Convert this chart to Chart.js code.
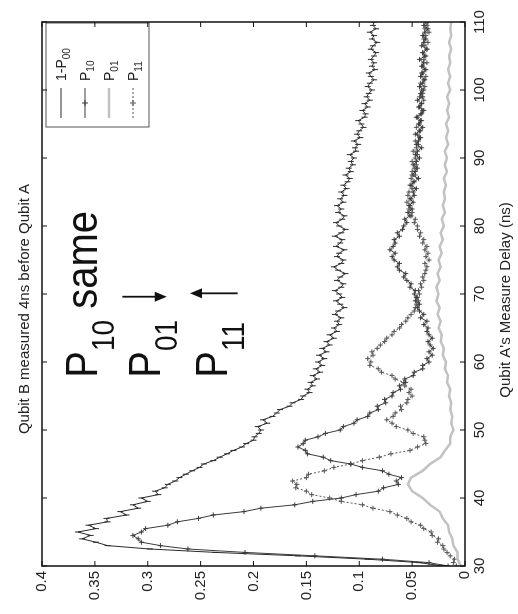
<!DOCTYPE html>
<html>
<head>
<meta charset="utf-8">
<script src="https://cdn.jsdelivr.net/npm/chart.js@4.4.1/dist/chart.umd.min.js"></script>
<style>
    html, body { margin: 0; padding: 0; background: #fff; overflow: hidden; }
    /* the figure is printed turned on its side, so draw it upright and rotate it */
    #wrap {
        position: absolute; left: 0; top: 0;
        width: 614px; height: 518px;
        transform-origin: 0 0;
        transform: translateY(614px) rotate(-90deg);
    }
</style>
</head>
<body>
<div id="wrap"><canvas id="chart" width="614" height="518"></canvas></div>
<script>
// ============ DATA ============
const chartTitle = 'Qubit B measured 4ns before Qubit A';
const xTitle = "Qubit A's Measure Delay (ns)";

const xTicks = [30, 40, 50, 60, 70, 80, 90, 100, 110];
const yTicks = [0, 0.05, 0.1, 0.15, 0.2, 0.25, 0.3, 0.35, 0.4];

const seriesLabels = ['1-P00', 'P10', 'P01', 'P11'];
const legendParts = [['1-P', '00'], ['P', '10'], ['P', '01'], ['P', '11']];

// measure delay (ns) for 1-P00, P10, P11
const delays = [
    30, 30.5, 31, 31.5, 32, 32.5, 33, 33.5, 34, 34.5,
    35, 35.5, 36, 36.5, 37, 37.5, 38, 38.5, 39, 39.5,
    40, 40.5, 41, 41.5, 42, 42.5, 43, 43.5, 44, 44.5,
    45, 45.5, 46, 46.5, 47, 47.5, 48, 48.5, 49, 49.5,
    50, 50.5, 51, 51.5, 52, 52.5, 53, 53.5, 54, 54.5,
    55, 55.5, 56, 56.5, 57, 57.5, 58, 58.5, 59, 59.5,
    60, 60.5, 61, 61.5, 62, 62.5, 63, 63.5, 64, 64.5,
    65, 65.5, 66, 66.5, 67, 67.5, 68, 68.5, 69, 69.5,
    70, 70.5, 71, 71.5, 72, 72.5, 73, 73.5, 74, 74.5,
    75, 75.5, 76, 76.5, 77, 77.5, 78, 78.5, 79, 79.5,
    80, 80.5, 81, 81.5, 82, 82.5, 83, 83.5, 84, 84.5,
    85, 85.5, 86, 86.5, 87, 87.5, 88, 88.5, 89, 89.5,
    90, 90.5, 91, 91.5, 92, 92.5, 93, 93.5, 94, 94.5,
    95, 95.5, 96, 96.5, 97, 97.5, 98, 98.5, 99, 99.5,
    100, 100.5, 101, 101.5, 102, 102.5, 103, 103.5, 104, 104.5,
    105, 105.5, 106, 106.5, 107, 107.5, 108, 108.5, 109, 109.5,
    110
];

const onePminusP00 = [
    0.021, 0.043, 0.092, 0.158, 0.236, 0.298, 0.338, 0.349, 0.362, 0.354,
    0.366, 0.349, 0.356, 0.338, 0.339, 0.320, 0.326, 0.309, 0.314, 0.300,
    0.306, 0.290, 0.293, 0.284, 0.281, 0.274, 0.270, 0.264, 0.258, 0.251,
    0.247, 0.238, 0.232, 0.225, 0.219, 0.211, 0.207, 0.200, 0.199, 0.195,
    0.193, 0.196, 0.187, 0.191, 0.182, 0.178, 0.175, 0.166, 0.163, 0.155,
    0.153, 0.147, 0.149, 0.144, 0.146, 0.140, 0.144, 0.137, 0.141, 0.135,
    0.139, 0.133, 0.138, 0.131, 0.135, 0.128, 0.131, 0.124, 0.128, 0.121,
    0.124, 0.119, 0.121, 0.117, 0.123, 0.120, 0.114, 0.118, 0.122, 0.116,
    0.119, 0.123, 0.117, 0.115, 0.121, 0.118, 0.113, 0.120, 0.124, 0.117,
    0.115, 0.121, 0.119, 0.114, 0.122, 0.118, 0.116, 0.123, 0.117, 0.113,
    0.119, 0.122, 0.116, 0.114, 0.120, 0.117, 0.121, 0.115, 0.118, 0.114,
    0.117, 0.112, 0.115, 0.111, 0.109, 0.113, 0.108, 0.110, 0.106, 0.108,
    0.105, 0.109, 0.103, 0.104, 0.101, 0.105, 0.099, 0.102, 0.100, 0.096,
    0.098, 0.101, 0.095, 0.094, 0.097, 0.092, 0.095, 0.090, 0.093, 0.091,
    0.088, 0.092, 0.090, 0.086, 0.089, 0.091, 0.085, 0.088, 0.086, 0.089,
    0.086, 0.084, 0.089, 0.087, 0.083, 0.088, 0.086, 0.090, 0.084, 0.087,
    0.086
];

const p10 = [
    0.016, 0.034, 0.078, 0.142, 0.208, 0.262, 0.288, 0.306, 0.309, 0.314,
    0.306, 0.302, 0.281, 0.272, 0.252, 0.238, 0.209, 0.193, 0.161, 0.144,
    0.117, 0.103, 0.082, 0.077, 0.063, 0.065, 0.060, 0.072, 0.078, 0.097,
    0.108, 0.127, 0.134, 0.149, 0.151, 0.158, 0.153, 0.151, 0.139, 0.132,
    0.118, 0.115, 0.105, 0.102, 0.092, 0.090, 0.082, 0.083, 0.075, 0.076,
    0.069, 0.068, 0.061, 0.062, 0.056, 0.057, 0.049, 0.048, 0.040, 0.040,
    0.034, 0.036, 0.031, 0.034, 0.030, 0.033, 0.035, 0.031, 0.034, 0.036,
    0.035, 0.039, 0.036, 0.042, 0.039, 0.043, 0.045, 0.043, 0.047, 0.046,
    0.048, 0.047, 0.052, 0.051, 0.055, 0.058, 0.056, 0.062, 0.064, 0.062,
    0.067, 0.069, 0.066, 0.071, 0.068, 0.066, 0.067, 0.062, 0.064, 0.059,
    0.058, 0.055, 0.057, 0.052, 0.054, 0.050, 0.053, 0.049, 0.052, 0.048,
    0.049, 0.046, 0.051, 0.048, 0.044, 0.050, 0.047, 0.045, 0.049, 0.046,
    0.043, 0.047, 0.045, 0.041, 0.046, 0.044, 0.042, 0.047, 0.043, 0.040,
    0.044, 0.042, 0.046, 0.041, 0.039, 0.043, 0.041, 0.045, 0.040, 0.042,
    0.039, 0.043, 0.040, 0.038, 0.042, 0.040, 0.037, 0.041, 0.039, 0.043,
    0.038, 0.040, 0.036, 0.041, 0.039, 0.037, 0.040, 0.038, 0.035, 0.039,
    0.037
];

const p11 = [
    0.008, 0.011, 0.010, 0.014, 0.017, 0.020, 0.021, 0.026, 0.025, 0.031,
    0.032, 0.039, 0.042, 0.051, 0.055, 0.064, 0.071, 0.087, 0.097, 0.117,
    0.128, 0.145, 0.150, 0.160, 0.159, 0.163, 0.150, 0.148, 0.133, 0.124,
    0.108, 0.097, 0.081, 0.070, 0.052, 0.045, 0.037, 0.038, 0.039, 0.049,
    0.054, 0.065, 0.069, 0.074, 0.068, 0.066, 0.060, 0.061, 0.055, 0.054,
    0.050, 0.053, 0.051, 0.057, 0.058, 0.066, 0.069, 0.079, 0.082, 0.090,
    0.089, 0.092, 0.087, 0.088, 0.083, 0.080, 0.076, 0.074, 0.069, 0.067,
    0.062, 0.060, 0.056, 0.054, 0.051, 0.048, 0.047, 0.046, 0.044, 0.045,
    0.043, 0.044, 0.041, 0.042, 0.039, 0.040, 0.038, 0.037, 0.036, 0.038,
    0.034, 0.037, 0.035, 0.038, 0.036, 0.040, 0.039, 0.043, 0.042, 0.045,
    0.045, 0.048, 0.047, 0.051, 0.050, 0.053, 0.052, 0.055, 0.051, 0.054,
    0.053, 0.050, 0.052, 0.049, 0.051, 0.047, 0.050, 0.048, 0.046, 0.050,
    0.047, 0.045, 0.049, 0.046, 0.044, 0.047, 0.043, 0.045, 0.042, 0.046,
    0.043, 0.041, 0.045, 0.042, 0.040, 0.044, 0.041, 0.039, 0.043, 0.040,
    0.041, 0.038, 0.042, 0.039, 0.037, 0.041, 0.038, 0.040, 0.036, 0.039,
    0.037, 0.040, 0.036, 0.038, 0.035, 0.039, 0.037, 0.034, 0.038, 0.036,
    0.035
];

// P01 is a smoother trace, read at 1 ns
const delaysP01 = [
    30, 31, 32, 33, 34, 35, 36, 37, 38, 39,
    40, 41, 42, 43, 44, 45, 46, 47, 48, 49,
    50, 51, 52, 53, 54, 55, 56, 57, 58, 59,
    60, 61, 62, 63, 64, 65, 66, 67, 68, 69,
    70, 71, 72, 73, 74, 75, 76, 77, 78, 79,
    80, 81, 82, 83, 84, 85, 86, 87, 88, 89,
    90, 91, 92, 93, 94, 95, 96, 97, 98, 99,
    100, 101, 102, 103, 104, 105, 106, 107, 108, 109, 110
];

const p01 = [
    0.004, 0.007, 0.007, 0.011, 0.012, 0.015, 0.016, 0.021, 0.024, 0.033,
    0.040, 0.050, 0.054, 0.051, 0.040, 0.033, 0.023, 0.019, 0.014, 0.014,
    0.011, 0.013, 0.012, 0.014, 0.013, 0.015, 0.014, 0.017, 0.016, 0.019,
    0.018, 0.021, 0.020, 0.023, 0.022, 0.025, 0.023, 0.026, 0.024, 0.027,
    0.025, 0.027, 0.024, 0.026, 0.023, 0.025, 0.022, 0.024, 0.021, 0.023,
    0.020, 0.022, 0.019, 0.021, 0.019, 0.020, 0.018, 0.020, 0.017, 0.019,
    0.017, 0.019, 0.016, 0.018, 0.016, 0.018, 0.015, 0.017, 0.015, 0.017,
    0.014, 0.016, 0.014, 0.016, 0.014, 0.015, 0.013, 0.015, 0.013, 0.014, 0.013
];

// big hand-written notes on the plot (data coordinates)
const notes = [
    { x: 57.7, y: 0.348, base: 'P', sub: '10', rest: ' same' },
    { x: 57.7, y: 0.288, base: 'P', sub: '01', rest: '' },
    { x: 57.7, y: 0.225, base: 'P', sub: '11', rest: '' }
];
const arrows = [
    { x: 69.6, from: 0.324, to: 0.282 },
    { x: 70.1, from: 0.215, to: 0.260 }
];

// ============ HELPERS ============
const FONT = '"Liberation Sans", Arial, Helvetica, sans-serif';

function toPoints(xs, ys) {
    return xs.map((x, i) => ({ x: x, y: ys[i] }));
}

function line(ctx, x1, y1, x2, y2) {
    ctx.beginPath();
    ctx.moveTo(x1, y1);
    ctx.lineTo(x2, y2);
    ctx.stroke();
}

function drawSubText(ctx, px, py, base, sub, rest, size, subSize, subDrop, stretch) {
    ctx.save();
    ctx.translate(px, py);
    ctx.scale(1, stretch);
    ctx.textAlign = 'left';
    ctx.textBaseline = 'alphabetic';
    ctx.font = `${size}px ${FONT}`;
    ctx.fillText(base, 0, 0);
    let w = ctx.measureText(base).width;
    ctx.font = `${subSize}px ${FONT}`;
    ctx.fillText(sub, w, subDrop);
    w += ctx.measureText(sub).width;
    if (rest) {
        ctx.font = `${size}px ${FONT}`;
        ctx.fillText(rest, w, 0);
    }
    ctx.restore();
}

function drawArrow(ctx, x, y1, y2) {
    const dir = y2 > y1 ? 1 : -1;
    ctx.lineWidth = 1.8;
    line(ctx, x, y1, x, y2 - dir * 10);
    ctx.beginPath();
    ctx.moveTo(x, y2);
    ctx.lineTo(x - 5, y2 - dir * 12);
    ctx.lineTo(x + 5, y2 - dir * 12);
    ctx.closePath();
    ctx.fill();
}

function drawLegend(chart) {
    const { ctx, chartArea: a } = chart;
    const bx = a.right - 105, by = a.top + 4, bw = 104, bh = 103;
    ctx.fillStyle = '#fff';
    ctx.fillRect(bx, by, bw, bh);
    ctx.strokeStyle = '#555';
    ctx.lineWidth = 1;
    ctx.strokeRect(bx, by, bw, bh);

    chart.data.datasets.forEach((ds, i) => {
        const cy = by + 15 + i * 24;
        ctx.strokeStyle = ds.borderColor;
        ctx.lineWidth = ds.borderWidth;
        ctx.setLineDash(ds.borderDash || []);
        line(ctx, bx + 9, cy, bx + 39, cy);
        ctx.setLineDash([]);
        if (ds.pointStyle === 'cross') {
            ctx.lineWidth = 1;
            line(ctx, bx + 21, cy, bx + 27, cy);
            line(ctx, bx + 24, cy - 3, bx + 24, cy + 3);
        }
        ctx.fillStyle = '#222';
        drawSubText(ctx, bx + 46, cy + 5, legendParts[i][0], legendParts[i][1], '', 14, 10, 4, 1);
    });
}

// MATLAB-like box, inward ticks, titles and notes
const framePlugin = {
    id: 'matlabFrame',
    afterDraw(chart) {
        const { ctx, chartArea: a, scales: { x, y } } = chart;
        ctx.save();

        drawLegend(chart);

        ctx.strokeStyle = '#111';
        ctx.lineWidth = 1.5;
        ctx.strokeRect(a.left, a.top, a.right - a.left, a.bottom - a.top);

        ctx.lineWidth = 1;
        xTicks.forEach(v => {
            const px = x.getPixelForValue(v);
            line(ctx, px, a.bottom, px, a.bottom - 5);
            line(ctx, px, a.top, px, a.top + 5);
        });
        yTicks.forEach(v => {
            const py = y.getPixelForValue(v);
            line(ctx, a.left, py, a.left + 5, py);
            line(ctx, a.right, py, a.right - 5, py);
        });

        ctx.fillStyle = '#222';
        ctx.font = `15px ${FONT}`;
        ctx.textAlign = 'center';
        ctx.textBaseline = 'middle';
        const mid = (a.left + a.right) / 2;
        ctx.fillText(chartTitle, mid - 15, 25);
        ctx.fillText(xTitle, mid - 6, 506);

        ctx.fillStyle = '#111';
        notes.forEach(n => {
            drawSubText(ctx, x.getPixelForValue(n.x), y.getPixelForValue(n.y),
                n.base, n.sub, n.rest, 40, 28, 15, 1.12);
        });
        ctx.strokeStyle = '#111';
        arrows.forEach(ar => {
            drawArrow(ctx, x.getPixelForValue(ar.x), y.getPixelForValue(ar.from), y.getPixelForValue(ar.to));
        });

        ctx.restore();
    }
};

// ============ CHART ============
Chart.defaults.font.family = FONT;
Chart.defaults.color = '#222';

const ctx = document.getElementById('chart').getContext('2d');

new Chart(ctx, {
    type: 'line',
    data: {
        datasets: [
            {
                label: seriesLabels[0],
                data: toPoints(delays, onePminusP00),
                borderColor: '#2a2a2a',
                borderWidth: 1,
                pointStyle: 'line',
                pointRotation: 90,
                pointRadius: 3,
                pointBorderColor: '#2a2a2a',
                pointBorderWidth: 1
            },
            {
                label: seriesLabels[1],
                data: toPoints(delays, p10),
                borderColor: '#3c3c3c',
                borderWidth: 1,
                pointStyle: 'cross',
                pointRadius: 2.5,
                pointBorderColor: '#3c3c3c',
                pointBorderWidth: 1
            },
            {
                label: seriesLabels[2],
                data: toPoints(delaysP01, p01),
                borderColor: '#c2c2c2',
                borderWidth: 2.5,
                pointRadius: 0
            },
            {
                label: seriesLabels[3],
                data: toPoints(delays, p11),
                borderColor: '#555',
                borderWidth: 1,
                borderDash: [2, 2],
                pointStyle: 'cross',
                pointRadius: 2.5,
                pointBorderColor: '#555',
                pointBorderWidth: 1
            }
        ]
    },
    options: {
        responsive: false,
        animation: false,
        devicePixelRatio: 1,
        layout: { padding: { top: 42, right: 22, left: 0, bottom: 0 } },
        plugins: {
            legend: { display: false },
            title: { display: false },
            tooltip: { enabled: false }
        },
        elements: { line: { tension: 0 } },
        scales: {
            x: {
                type: 'linear',
                min: 30,
                max: 110,
                afterBuildTicks: s => { s.ticks = xTicks.map(v => ({ value: v })); },
                afterFit: s => { s.height = 53; },
                ticks: { font: { size: 15 }, padding: 6, maxRotation: 0 },
                grid: { display: false, drawTicks: false },
                border: { display: false }
            },
            y: {
                min: 0,
                max: 0.4,
                afterBuildTicks: s => { s.ticks = yTicks.map(v => ({ value: v })); },
                afterFit: s => { s.width = 48; },
                ticks: {
                    font: { size: 15 },
                    padding: 5,
                    callback: v => String(parseFloat(Number(v).toFixed(2)))
                },
                grid: { display: false, drawTicks: false },
                border: { display: false }
            }
        }
    },
    plugins: [framePlugin]
});
</script>
</body>
</html>
